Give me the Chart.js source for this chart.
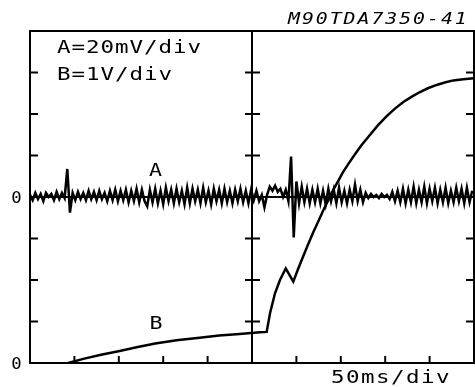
<!DOCTYPE html>
<html><head><meta charset="utf-8">
<script src="https://cdn.jsdelivr.net/npm/chart.js@4/dist/chart.umd.min.js"></script>
<style>html,body{margin:0;padding:0;background:#fff;overflow:hidden}</style>
</head><body>
<canvas id="c" width="475" height="387"></canvas>
<script>
// ---- scope settings ----
const msPerDiv = 50;        // time base
const mvPerDivA = 20;       // channel A
const vPerDivB = 1;         // channel B
const aZeroDiv = 4;         // A baseline (divisions from bottom)
const bZeroDiv = 0;         // B baseline
const xTickMs = [0,50,100,150,200,250,300,350,400,450,500];
const yTickDiv = [0,1,2,3,4,5,6,7,8];

// ---- channel A: sampled every aStepMs (mV) ----
const aStepMs = 3;
const aMillivolts = [
  1,-1.5,2,-1,1.5,-2,2,0,1.5,-1.5,2.5,-1,2,-0.5,
  13.5,-7.5,2,
  -1.5,2.5,-1,2,-1.5,3,-1,2.5,-1.5,3,-1,2,-2,3,-1.5,3.5,-2,3,-1.5,3.5,-2.5,3,-2,4,-2.5,3.5,-2,
  -4.5,
  3.5,-2.5,4,-3,3,-3.5,4.5,-2,3.5,-3,4,-2.5,3,-3.5,4.5,-3,4,-2,3.5,-3,4.5,-2.5,3,-3.5,4,-2,3.5,-3,4,-2.5,3,-3,3.5,-2,4,-2.5,3,-3,3.5,-1.5,3,-2,
  1,-5,1,5,3,5.5,2.5,4,0,3.5,-2,19.5,-19.5,7.5,-3,5,-2.5,4,
  -3,3.5,-2.5,4,-3,3,-3.5,4,-2,3.5,-3,4.5,-2.5,3,-3,3.5,-2,6,-2,3.5,-2.5,2,
  -0.5,1.5,0,1,-0.5,1.5,0,1,-1,
  2.5,-2,3,-2.5,4,-3,3.5,-2.5,5,-3,3.5,-2.5,5,-3,4,-2,4.5,-3,3.5,-2.5,4.5,-3,3,-2.5,4.5,-2,4,-3,4.5,-2.5,3
];

// ---- channel B (ms, V) ----
const bTimesMs = [43,60,80,101,120,141,165,191,213,236,259,266.5,270.3,275.9,281.5,288,296.5,302,307.8,313,319,325,330.3,336,341.5,347,352,358,364,373,383,392,401.7,411,420.4,430,439.2,448,458,467,476.7,488,500];
const bVolts   = [0,0.1,0.2,0.29,0.38,0.47,0.55,0.61,0.66,0.70,0.74,0.75,1.2,1.68,2.0,2.28,1.96,2.27,2.58,2.85,3.15,3.43,3.68,3.93,4.17,4.38,4.58,4.78,4.97,5.24,5.50,5.73,5.95,6.13,6.29,6.42,6.53,6.62,6.70,6.76,6.81,6.84,6.86];

// ---- texts ----
const refCode = 'M90TDA7350-41';
const scaleTextA = 'A=20mV/div';
const scaleTextB = 'B=1V/div';
const timeText = '50ms/div';
const zeroText = '0';

const aPoints = aMillivolts.map((mv,i)=>({x:i*aStepMs, y:aZeroDiv + mv/mvPerDivA}));
const bPoints = bTimesMs.map((t,i)=>({x:t, y:bZeroDiv + bVolts[i]/vPerDivB}));

const mono = '"DejaVu Sans Mono", "Liberation Mono", monospace';

function drawText(ctx, str, x, y, font, sx, spacing, align){
  ctx.save();
  ctx.font = font;
  ctx.letterSpacing = spacing + 'px';
  ctx.textAlign = align || 'left';
  ctx.scale(sx, 1);
  ctx.fillText(str, x/sx, y);
  ctx.restore();
}

const scopePlugin = {
  id:'scopeFrame',
  beforeDatasetsDraw(chart){
    const {ctx, chartArea:a, scales:{x,y}} = chart;
    const L=(x1,y1,x2,y2)=>{ctx.beginPath();ctx.moveTo(x1,y1);ctx.lineTo(x2,y2);ctx.stroke();};
    ctx.save();
    ctx.strokeStyle='#000'; ctx.lineWidth=2; ctx.lineCap='butt';
    ctx.strokeRect(a.left, a.top, a.right-a.left, a.bottom-a.top);
    const xm = x.getPixelForValue(msPerDiv*5), ym = y.getPixelForValue(aZeroDiv);
    L(xm, a.top, xm, a.bottom);
    L(a.left, ym, a.right, ym);
    yTickDiv.forEach(v=>{
      const py=y.getPixelForValue(v);
      L(a.left,py,a.left+8,py); L(a.right-8,py,a.right,py); L(xm-7,py,xm+8,py);
    });
    xTickMs.forEach(v=>{ const px=x.getPixelForValue(v); L(px,a.bottom,px,a.bottom-7); });
    ctx.restore();
  },
  afterDraw(chart){
    const {ctx, scales:{x,y}} = chart;
    ctx.save();
    ctx.fillStyle='#000';
    ctx.textBaseline='alphabetic';
    drawText(ctx, scaleTextA, 57, 53, '18px '+mono, 1.25, 0.76);
    drawText(ctx, scaleTextB, 57, 80, '18px '+mono, 1.25, 0.76);
    drawText(ctx, timeText, 331, 383, '18px '+mono, 1.25, 1.16);
    drawText(ctx, refCode, 288, 24, 'italic 15px '+mono, 1.32, 1.5);
    drawText(ctx, 'A', 155.5, 176, '18px '+mono, 1.2, 0, 'center');
    drawText(ctx, 'B', 156, 329, '18px '+mono, 1.2, 0, 'center');
    drawText(ctx, zeroText, 16.5, y.getPixelForValue(aZeroDiv)+5.5, '15px '+mono, 1.15, 0, 'center');
    drawText(ctx, zeroText, 16.5, y.getPixelForValue(bZeroDiv)+5.5, '15px '+mono, 1.15, 0, 'center');
    ctx.restore();
  }
};

new Chart(document.getElementById('c'), {
  type:'line',
  data:{ datasets:[
    {label:'A', data:aPoints, borderColor:'#000', borderWidth:2.5, pointRadius:0, tension:0, fill:false},
    {label:'B', data:bPoints, borderColor:'#000', borderWidth:2.5, pointRadius:0, tension:0, fill:false}
  ]},
  options:{
    responsive:false, animation:false, events:[],
    layout:{padding:{left:30, top:31, right:1, bottom:24}},
    plugins:{legend:{display:false}, tooltip:{enabled:false}, title:{display:false}},
    scales:{
      x:{type:'linear', min:0, max:msPerDiv*10, display:false},
      y:{type:'linear', min:0, max:8, display:false}
    }
  },
  plugins:[scopePlugin]
});
</script>
</body></html>
